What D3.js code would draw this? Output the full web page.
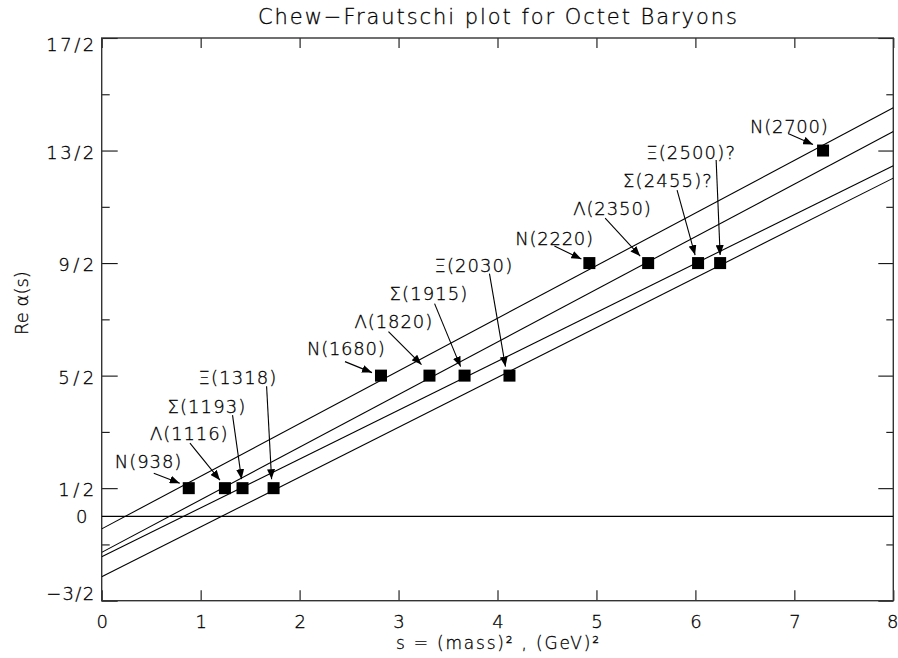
<!DOCTYPE html>
<html>
<head>
<meta charset="utf-8">
<script src="https://cdn.jsdelivr.net/npm/d3@7"></script>
<style>
  html, body { margin: 0; padding: 0; background: #fff; }
  svg text { font-family: "DejaVu Sans", sans-serif; font-weight: 200; fill: #000; stroke: #000; stroke-width: 0.3px; }
</style>
</head>
<body>
<svg id="chart" width="898" height="658"></svg>
<script>
// Octet baryon states: family, mass (MeV), spin J, tentative assignment
const families  = ["N", "Λ", "Σ", "Ξ", "N", "Λ", "Σ", "Ξ", "N", "Λ", "Σ", "Ξ", "N"];
const massesMeV = [938, 1116, 1193, 1318, 1680, 1820, 1915, 2030, 2220, 2350, 2455, 2500, 2700];
const spins     = [0.5, 0.5, 0.5, 0.5, 2.5, 2.5, 2.5, 2.5, 4.5, 4.5, 4.5, 4.5, 6.5];
const tentative = [false, false, false, false, false, false, false, false, false, false, true, true, false];

const trajectoryFamilies = ["N", "Λ", "Σ", "Ξ"];

const xTicks = [0, 1, 2, 3, 4, 5, 6, 7, 8];
const yMajorTicks  = [-1.5, 0.5, 2.5, 4.5, 6.5, 8.5];
const yMajorLabels = ["−3/2", "1/2", "5/2", "9/2", "13/2", "17/2"];
const yMinorTicks  = [-0.5, 1.5, 3.5, 5.5, 7.5];

// Label placement, in pixels relative to each marker:
// [text left dx, text baseline dy, arrow tail dx, dy, arrow tip dx, dy]
const labelLayout = [
  [-74, -20, -35, -15, -9, -5],
  [-75, -48, -35, -45, -5, -8],
  [-75, -75, -10, -73, -1, -9],
  [-75, -104, -7, -102, -2, -9],
  [-74, -21, -36, -14, -9, -3],
  [-75, -48, -41, -44, -8, -11],
  [-75, -76, -30, -72, -4, -9],
  [-75, -104, -20, -102, -4, -9],
  [-74, -18, -35, -17, -8, -4],
  [-75, -48, -43, -45, -8, -7],
  [-75, -76, -21, -73, -3, -8],
  [-74, -104, -4, -103, 0, -8],
  [-73, -18, -35, -17, -10, -6]
];

const plot = { left: 101.7, right: 893.3, top: 38, bottom: 600.7 };

const svg = d3.select("#chart");

const x = d3.scaleLinear().domain([0, 8]).range([plot.left, plot.right]);
const y = d3.scaleLinear().domain([-1.5, 8.5]).range([plot.bottom, plot.top]);

const states = massesMeV.map((m, i) => ({
  family: families[i],
  mass: m,
  s: (m / 1000) * (m / 1000),
  J: spins[i],
  label: `${families[i]}(${m})${tentative[i] ? "?" : ""}`,
  layout: labelLayout[i]
}));

// Least-squares Regge trajectory for each family: J = a + b s
function fit(points) {
  const ms = d3.mean(points, p => p.s), mj = d3.mean(points, p => p.J);
  const sxy = d3.sum(points, p => (p.s - ms) * (p.J - mj));
  const sxx = d3.sum(points, p => (p.s - ms) ** 2);
  const b = sxy / sxx;
  return { a: mj - b * ms, b };
}

const defs = svg.append("defs");
defs.append("clipPath").attr("id", "plot-clip")
  .append("rect")
  .attr("x", plot.left).attr("y", plot.top)
  .attr("width", plot.right - plot.left).attr("height", plot.bottom - plot.top);

defs.append("marker")
  .attr("id", "arrowhead")
  .attr("markerUnits", "userSpaceOnUse")
  .attr("viewBox", "0 0 10 8")
  .attr("refX", 10).attr("refY", 4)
  .attr("markerWidth", 10).attr("markerHeight", 8)
  .attr("orient", "auto")
  .append("path")
  .attr("d", "M0,0 L10,4 L0,8 Z")
  .attr("fill", "#000");

// Title
svg.append("text")
  .attr("x", (plot.left + plot.right) / 2)
  .attr("y", 24)
  .attr("text-anchor", "middle")
  .attr("font-size", 21)
  .attr("textLength", 479)
  .attr("lengthAdjust", "spacing")
  .text("Chew−Frautschi plot for Octet Baryons");

// Axis titles
svg.append("text")
  .attr("x", (plot.left + plot.right) / 2)
  .attr("y", 649)
  .attr("text-anchor", "middle")
  .attr("font-size", 17)
  .attr("textLength", 203)
  .attr("lengthAdjust", "spacing")
  .text("s = (mass)² , (GeV)²");

svg.append("text")
  .attr("transform", `translate(28,303) rotate(-90)`)
  .attr("text-anchor", "middle")
  .attr("font-size", 18)
  .text("Re α(s)");

const g = svg.append("g");

// Bottom and top axes
const xBottom = g.append("g")
  .attr("transform", `translate(0,${plot.bottom})`)
  .call(d3.axisBottom(x).tickValues(xTicks).tickSizeInner(-10.5).tickSizeOuter(0)
    .tickPadding(15).tickFormat(d3.format("d")));
g.append("g")
  .attr("transform", `translate(0,${plot.top})`)
  .call(d3.axisTop(x).tickValues(xTicks).tickSizeInner(-10).tickSizeOuter(0).tickFormat(""));

// Left and right axes: major and minor ticks
const yLeft = g.append("g")
  .attr("transform", `translate(${plot.left},0)`)
  .call(d3.axisLeft(y).tickValues(yMajorTicks).tickSizeInner(-16).tickSizeOuter(0)
    .tickPadding(7.5).tickFormat((d, i) => yMajorLabels[i]));
g.append("g")
  .attr("transform", `translate(${plot.left},0)`)
  .call(d3.axisLeft(y).tickValues(yMinorTicks).tickSizeInner(-8).tickSizeOuter(0).tickFormat(""));
g.append("g")
  .attr("transform", `translate(${plot.right},0)`)
  .call(d3.axisRight(y).tickValues(yMajorTicks).tickSizeInner(-15).tickSizeOuter(0).tickFormat(""));
g.append("g")
  .attr("transform", `translate(${plot.right},0)`)
  .call(d3.axisRight(y).tickValues(yMinorTicks).tickSizeInner(-7).tickSizeOuter(0).tickFormat(""));

g.selectAll(".domain").remove();
g.selectAll(".tick line").attr("stroke", "#111").attr("stroke-width", 1.1);
g.selectAll(".tick text")
  .attr("font-family", "DejaVu Sans")
  .attr("font-size", 18)
  .attr("fill", "#000");

// Keep the end labels of the left axis inside the frame
yLeft.selectAll(".tick text")
  .attr("textLength", d => 12 * [...yMajorLabels[yMajorTicks.indexOf(d)]].length)
  .attr("lengthAdjust", "spacing")
  .attr("dy", d => d === 8.5 ? "0.72em" : d === -1.5 ? "-0.05em" : "0.42em");

xBottom.selectAll(".tick text")
  .attr("dx", d => d === 8 ? -1 : 0);

// Zero label
svg.append("text")
  .attr("x", 87.5)
  .attr("y", y(0))
  .attr("dy", "0.4em")
  .attr("text-anchor", "end")
  .attr("font-size", 18)
  .text("0");

// Plot frame
svg.append("rect")
  .attr("x", plot.left).attr("y", plot.top)
  .attr("width", plot.right - plot.left).attr("height", plot.bottom - plot.top)
  .attr("fill", "none")
  .attr("stroke", "#333")
  .attr("stroke-width", 1.4);

const inner = svg.append("g").attr("clip-path", "url(#plot-clip)");

// J = 0 reference line
inner.append("line")
  .attr("x1", x(0)).attr("x2", x(8))
  .attr("y1", y(0)).attr("y2", y(0))
  .attr("stroke", "#000")
  .attr("stroke-width", 1.3);

// Regge trajectories
const line = d3.line().x(d => x(d[0])).y(d => y(d[1]));
trajectoryFamilies.forEach(f => {
  const { a, b } = fit(states.filter(d => d.family === f));
  inner.append("path")
    .attr("d", line([[0, a], [8, a + 8 * b]]))
    .attr("fill", "none")
    .attr("stroke", "#000")
    .attr("stroke-width", 1.1);
});

// Markers
svg.append("g").selectAll("rect")
  .data(states)
  .join("rect")
  .attr("x", d => x(d.s) - 6)
  .attr("y", d => y(d.J) - 6)
  .attr("width", 12)
  .attr("height", 12)
  .attr("fill", "#000");

// Labels with arrows
const ann = svg.append("g");
ann.selectAll("line")
  .data(states)
  .join("line")
  .attr("x1", d => x(d.s) + d.layout[2])
  .attr("y1", d => y(d.J) + d.layout[3])
  .attr("x2", d => x(d.s) + d.layout[4])
  .attr("y2", d => y(d.J) + d.layout[5])
  .attr("stroke", "#000")
  .attr("stroke-width", 1.1)
  .attr("marker-end", "url(#arrowhead)");

ann.selectAll("text")
  .data(states)
  .join("text")
  .attr("x", d => x(d.s) + d.layout[0])
  .attr("y", d => y(d.J) + d.layout[1])
  .attr("font-size", 18)
  .attr("textLength", d => 11.1 * [...d.label].length)
  .attr("lengthAdjust", "spacing")
  .text(d => d.label);
</script>
</body>
</html>
